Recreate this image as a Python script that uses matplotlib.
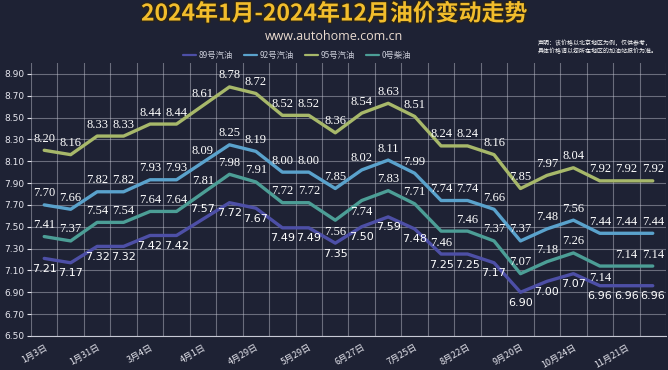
import matplotlib
matplotlib.use("Agg")
import matplotlib.pyplot as plt
import matplotlib.patheffects as pe
import numpy as np

plt.rcParams['font.family'] = ['Noto Sans CJK SC', 'DejaVu Sans']

dates = ["1月3日", "1月17日", "1月31日", "2月19日", "3月4日", "3月18日",
         "4月1日", "4月16日", "4月29日", "5月15日", "5月29日", "6月13日",
         "6月27日", "7月11日", "7月25日", "8月8日", "8月22日", "9月5日",
         "9月20日", "10月10日", "10月24日", "11月7日", "11月21日", "12月5日"]

gas89 = [7.21, 7.17, 7.32, 7.32, 7.42, 7.42, 7.57, 7.72, 7.67, 7.49, 7.49, 7.35,
         7.50, 7.59, 7.48, 7.25, 7.25, 7.17, 6.90, 7.00, 7.07, 6.96, 6.96, 6.96]
gas92 = [7.70, 7.66, 7.82, 7.82, 7.93, 7.93, 8.09, 8.25, 8.19, 8.00, 8.00, 7.85,
         8.02, 8.11, 7.99, 7.74, 7.74, 7.66, 7.37, 7.48, 7.56, 7.44, 7.44, 7.44]
gas95 = [8.20, 8.16, 8.33, 8.33, 8.44, 8.44, 8.61, 8.78, 8.72, 8.52, 8.52, 8.36,
         8.54, 8.63, 8.51, 8.24, 8.24, 8.16, 7.85, 7.97, 8.04, 7.92, 7.92, 7.92]
diesel0 = [7.41, 7.37, 7.54, 7.54, 7.64, 7.64, 7.81, 7.98, 7.91, 7.72, 7.72, 7.56,
           7.74, 7.83, 7.71, 7.46, 7.46, 7.37, 7.07, 7.18, 7.26, 7.14, 7.14, 7.14]

BG = "#1e2234"

series = [
    ("89号汽油", gas89, "#4d4fa6"),
    ("92号汽油", gas92, "#5aa2cc"),
    ("95号汽油", gas95, "#a7b86a"),
    ("0号柴油", diesel0, "#4c9e96"),
]
# indices where the value label sits below the point
below = {
    "89号汽油": [i for i in range(24) if i != 6],
    "92号汽油": [],
    "95号汽油": [],
    "0号柴油": [11, 12, 15, 21],
}

fig = plt.figure(figsize=(6.68, 3.70), dpi=100, facecolor=BG)
ax = fig.add_axes([0.0464, 0.092, 0.9506, 0.738])
ax.set_facecolor(BG)

x = np.arange(len(dates))
for name, vals, color in series:
    ax.plot(x, vals, color=color, lw=2.4, label=name, solid_capstyle="round",
            zorder=3)
    for i, v in enumerate(vals):
        if i in below[name]:
            off, va = -4, "top"
        else:
            off, va = 4, "bottom"
        fam = ["DejaVu Sans"] if name == "89号汽油" else ["Liberation Serif"]
        ax.annotate(f"{v:.2f}", (i, v), xytext=(0, off),
                    textcoords="offset points", ha="center", va=va,
                    fontsize=8 if name == "89号汽油" else 9, color="white",
                    family=fam, zorder=4)

ax.set_xlim(-0.5, len(dates) - 0.5)
ax.set_ylim(6.5, 9.0)
ax.set_yticks(np.arange(6.5, 8.91, 0.2))
ax.set_yticklabels([f"{t:.2f}" for t in np.arange(6.5, 8.91, 0.2)],
                   family=["DejaVu Sans"])
ax.set_xticks(x[::2])
ax.set_xticklabels(dates[::2], rotation=30, ha="right", rotation_mode="anchor")
ax.set_xticks(np.arange(-0.5, len(dates), 1), minor=True)
ax.tick_params(axis="x", which="major", length=0, colors="#e6e6ee",
               labelsize=6.5, pad=5)
ax.tick_params(axis="x", which="minor", length=0)
ax.tick_params(axis="y", length=3, colors="#e6e6ee", labelsize=6.5, pad=2)
ax.grid(True, axis="y", color="#c8cad6", alpha=0.45, lw=0.8)
ax.grid(True, axis="x", which="minor", color="#c8cad6", alpha=0.45, lw=0.8)
for s in ["top", "right", "left"]:
    ax.spines[s].set_visible(False)
ax.spines["bottom"].set_color("#c8cad6")

fig.text(0.5, 0.962, "2024年1月-2024年12月油价变动走势", ha="center", va="center",
         fontsize=16.5, fontweight="bold", color="#f2bd2c",
         path_effects=[pe.withStroke(linewidth=2, foreground="#2a2418")])
fig.text(0.5, 0.9, "www.autohome.com.cn", ha="center", va="center",
         fontsize=9, color="#eadbd0", family=["Open Sans"])
fig.text(0.805, 0.873, "声明：该价格以北京地区为例，仅供参考，\n具体价格请以您所在地区的加油站报价为准。",
         ha="left", va="center", fontsize=4.3, color="white", linespacing=1.3)

leg = fig.legend(loc="center", bbox_to_anchor=(0.445, 0.851), ncol=4,
                 frameon=False, fontsize=6, handlelength=1.6, columnspacing=1.3,
                 handletextpad=0.3, labelcolor="#c8cad6")
for h in leg.get_lines():
    h.set_linewidth(1.6)

fig.savefig("out.png", dpi=100, facecolor=BG)
